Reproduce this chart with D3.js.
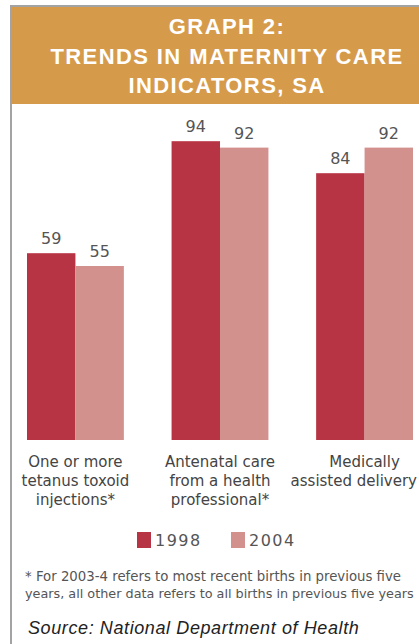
<!DOCTYPE html>
<html><head><meta charset="utf-8">
<script src="https://cdn.jsdelivr.net/npm/d3@7"></script>
<style>
html,body{margin:0;padding:0;background:#fff;overflow:hidden;}
svg{display:block;}
</style></head>
<body>
<script>
const titleLines = ["GRAPH 2:", "TRENDS IN MATERNITY CARE", "INDICATORS, SA"];
const categories = ["One or more tetanus toxoid injections*", "Antenatal care from a health professional*", "Medically assisted delivery"];
const categoryLines = [["One or more", "tetanus toxoid", "injections*"], ["Antenatal care", "from a health", "professional*"], ["Medically", "assisted delivery"]];
const seriesNames = ["1998", "2004"];
const values1998 = [59, 94, 84];
const values2004 = [55, 92, 92];
const footnote = ["* For 2003-4 refers to most recent births in previous five", "years, all other data refers to all births in previous five years"];
const source = "Source: National Department of Health";

const W = 419, H = 644;
const colors = {"1998": "#B73445", "2004": "#D3918D"};

const svg = d3.select("body").append("svg").attr("width", W).attr("height", H);

// frame
svg.append("rect").attr("x", 10).attr("y", 5).attr("width", W - 10).attr("height", H - 5).attr("fill", "#fff");
svg.append("rect").attr("x", 12).attr("y", 7).attr("width", W - 12).attr("height", 97).attr("fill", "#D69A4B");
svg.append("rect").attr("x", 10).attr("y", 5).attr("width", W - 10).attr("height", 2).attr("fill", "#A3A3A3");
svg.append("rect").attr("x", 10).attr("y", 5).attr("width", 2).attr("height", H - 5).attr("fill", "#A3A3A3");

// title
svg.append("g").selectAll("text").data(titleLines).join("text")
  .attr("x", 227).attr("y", (d, i) => 34 + i * 29.5)
  .attr("text-anchor", "middle")
  .attr("font-family", "Liberation Sans, Arial, sans-serif")
  .attr("font-weight", "bold").attr("font-size", 22)
  .attr("letter-spacing", 1.4)
  .attr("fill", "#fff").text(d => d);

// scales
const x0 = d3.scaleBand().domain(categories).range([27, 413]).paddingInner(0.33).paddingOuter(0);
const x1 = d3.scaleBand().domain(seriesNames).range([0, x0.bandwidth()]).padding(0);
const y = d3.scaleLinear().domain([0, 100]).range([442, 122]);
const baseY = 440;

const data = categories.map((c, i) => ({cat: c, vals: [{s: "1998", v: values1998[i]}, {s: "2004", v: values2004[i]}]}));

const groups = svg.append("g").selectAll("g").data(data).join("g")
  .attr("transform", d => `translate(${x0(d.cat)},0)`);

groups.selectAll("rect").data(d => d.vals).join("rect")
  .attr("x", d => x1(d.s)).attr("width", x1.bandwidth())
  .attr("y", d => y(d.v)).attr("height", d => baseY - y(d.v))
  .attr("fill", d => colors[d.s]);

groups.selectAll("text.val").data(d => d.vals).join("text").attr("class", "val")
  .attr("x", d => x1(d.s) + x1.bandwidth() / 2)
  .attr("y", d => y(d.v) - 9)
  .attr("text-anchor", "middle")
  .attr("font-family", "DejaVu Sans, Verdana, sans-serif")
  .attr("font-size", 16).attr("fill", "#555")
  .text(d => d.v);

// category labels
groups.each(function(d, i) {
  const gx = x0(d.cat);
  d3.select(this).append("g").selectAll("text").data(categoryLines[i]).join("text")
    .attr("x", x0.bandwidth() / 2)
    .attr("y", (t, j) => 467 + j * 19)
    .attr("text-anchor", "middle")
    .attr("font-family", "DejaVu Sans, Verdana, sans-serif")
    .attr("font-size", 15).attr("fill", "#444")
    .text(t => t)
    .each(function() {
      const w = this.getComputedTextLength();
      const right = gx + x0.bandwidth() / 2 + w / 2;
      if (right > W - 2) {
        d3.select(this).attr("x", x0.bandwidth() / 2 - (right - (W - 2)));
      }
    });
});

// legend
const legendX = [137, 231];
const leg = svg.append("g").selectAll("g").data(seriesNames).join("g")
  .attr("transform", (d, i) => `translate(${legendX[i]},532)`);
leg.append("rect").attr("width", 14).attr("height", 16).attr("fill", d => colors[d]);
leg.append("text").attr("x", 18).attr("y", 14)
  .attr("font-family", "DejaVu Sans, Verdana, sans-serif")
  .attr("font-size", 16).attr("letter-spacing", 1.5).attr("fill", "#555")
  .text(d => d);

// footnote
svg.append("g").selectAll("text").data(footnote).join("text")
  .attr("x", 25).attr("y", (d, i) => 581 + i * 17)
  .attr("font-family", "DejaVu Sans, Verdana, sans-serif")
  .attr("font-size", 13.3).attr("fill", "#555")
  .text(d => d)
  .each(function() {
    const w = this.getComputedTextLength();
    const avail = W - 4 - 25;
    if (w > avail) {
      d3.select(this).attr("font-size", Math.floor(13.3 * avail / w * 10) / 10);
    }
  });

// source
svg.append("text").attr("x", 28).attr("y", 634)
  .attr("font-family", "Liberation Sans, Arial, sans-serif")
  .attr("font-style", "italic").attr("font-size", 18).attr("letter-spacing", 0.6)
  .attr("fill", "#222").text(source);
</script>
</body></html>
